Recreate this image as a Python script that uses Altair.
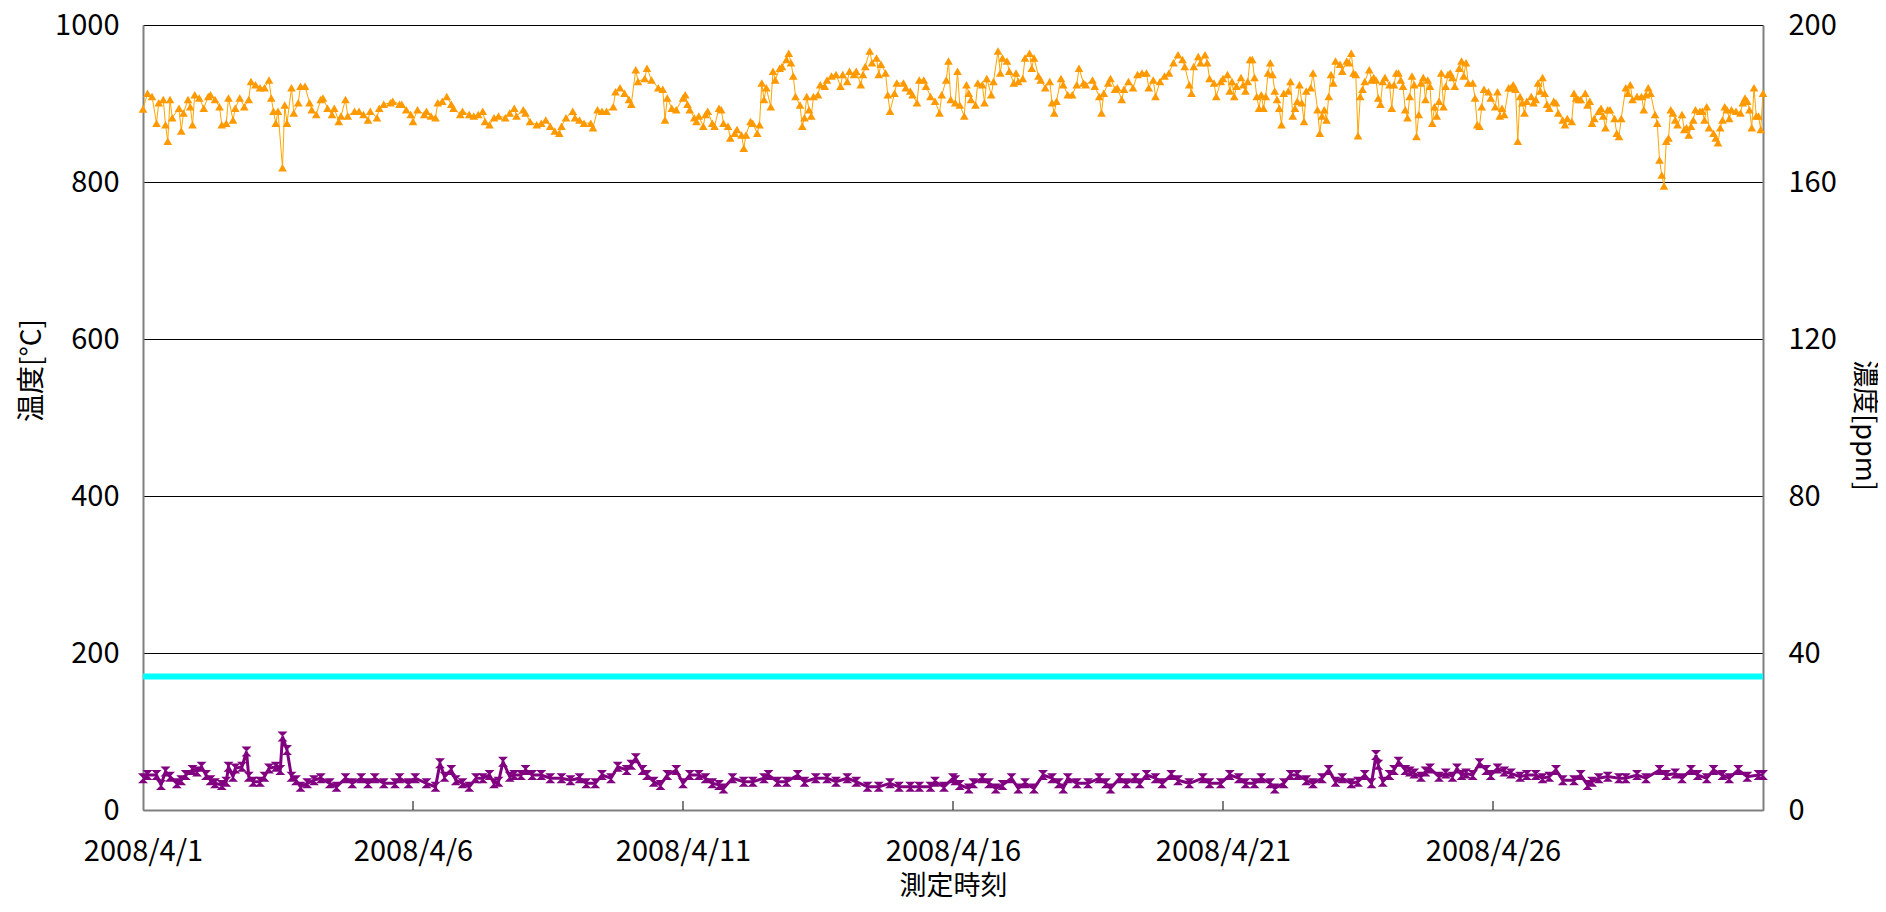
import altair as alt
import pandas as pd

FONT = "Noto Sans CJK JP"
START = "2008-04-01"

# (hours since 2008/4/1 00:00, temperature °C)
temp_readings = [
    (0, 893), (2, 913), (4, 909), (6, 875), (7, 901), (9, 905), (10, 873), (11, 852), (12, 905), (13, 882),
    (16, 894), (17, 865), (18, 888), (20, 905), (21, 896), (22, 873), (23, 911), (25, 907), (27, 894), (29, 909),
    (30, 911), (32, 905), (34, 896), (35, 873), (37, 875), (38, 907), (40, 879), (41, 894), (43, 907), (45, 896),
    (47, 905), (48, 928), (50, 924), (52, 920), (54, 920), (56, 930), (57, 907), (58, 890), (59, 875), (60, 890),
    (62, 818), (63, 898), (64, 875), (66, 920), (67, 888), (69, 901), (70, 922), (72, 922), (74, 901), (75, 892),
    (77, 886), (79, 905), (80, 907), (82, 894), (84, 886), (85, 894), (87, 877), (88, 884), (90, 905), (91, 884),
    (94, 890), (96, 890), (98, 886), (100, 879), (101, 890), (104, 882), (105, 894), (107, 899), (110, 901), (111, 903),
    (114, 899), (115, 899), (117, 892), (119, 886), (120, 877), (122, 892), (125, 886), (126, 890), (128, 884), (130, 882),
    (131, 901), (133, 903), (135, 909), (137, 899), (138, 894), (141, 886), (142, 890), (145, 886), (147, 884), (149, 886),
    (151, 890), (152, 877), (154, 873), (156, 882), (158, 884), (161, 882), (163, 888), (165, 894), (166, 884), (169, 892),
    (170, 888), (172, 877), (175, 873), (177, 875), (179, 879), (181, 871), (183, 865), (185, 862), (186, 871), (188, 882),
    (191, 890), (192, 882), (194, 879), (196, 875), (199, 875), (200, 869), (202, 892), (204, 890), (206, 890), (209, 896),
    (210, 915), (212, 920), (214, 913), (216, 905), (217, 899), (219, 943), (220, 928), (223, 932), (224, 945), (226, 930),
    (229, 920), (231, 918), (232, 879), (233, 907), (235, 894), (237, 892), (240, 907),
    (241, 911), (242, 899), (243, 892), (245, 882), (246, 877), (247, 884), (249, 871), (250, 886), (251, 890), (253, 875),
    (254, 871), (256, 894), (257, 892), (258, 875), (260, 871), (261, 856), (263, 862), (264, 867), (266, 860), (267, 843),
    (268, 860), (270, 877), (271, 875), (273, 862), (274, 873), (275, 926), (276, 905), (277, 920), (279, 896), (280, 941),
    (281, 930), (283, 945), (284, 947), (286, 956), (287, 964), (288, 952), (289, 935), (290, 909), (292, 898), (293, 871),
    (294, 882), (295, 909), (296, 892), (297, 884), (298, 909), (300, 911), (301, 924), (303, 922), (304, 930), (306, 935),
    (308, 937), (310, 922), (311, 937), (313, 928), (314, 941), (316, 937), (317, 941), (319, 924), (320, 937), (321, 947),
    (323, 967), (324, 952), (326, 958), (327, 937), (328, 950), (330, 939), (331, 911), (332, 890), (334, 913), (335, 926),
    (338, 926), (339, 920), (341, 916), (342, 911), (344, 901), (345, 930), (347, 930), (348, 922), (350, 909), (352, 903),
    (354, 888), (355, 911), (357, 930), (358, 954), (359, 905), (361, 901), (362, 941), (363, 898), (365, 884), (366, 924),
    (367, 913), (368, 905), (370, 898), (371, 926), (373, 924), (374, 901), (375, 932), (377, 911), (378, 928), (380, 967),
    (381, 939), (382, 958), (384, 954), (385, 941), (387, 926), (388, 939), (389, 928), (391, 932), (392, 958), (394, 964),
    (395, 945), (396, 958), (398, 935), (399, 930), (401, 920), (403, 928), (404, 901), (405, 888), (406, 903), (408, 932),
    (409, 924), (411, 911), (413, 911), (415, 924), (416, 945), (418, 926), (419, 924), (422, 930), (423, 922), (425, 909),
    (426, 888), (427, 913), (429, 926), (430, 932), (432, 918), (433, 920), (435, 905), (436, 918), (438, 928), (440, 920),
    (442, 937), (444, 939), (446, 939), (447, 920), (449, 930), (450, 909), (452, 928), (454, 935), (456, 939), (458, 952),
    (460, 962), (462, 956), (463, 947), (465, 924), (466, 913), (467, 947), (469, 960), (470, 952), (472, 962), (473, 952),
    (474, 932), (476, 926), (477, 909), (479, 928), (480, 932),
    (482, 937), (483, 916), (484, 928), (485, 909), (486, 922), (488, 933), (489, 924), (490, 916), (491, 928), (492, 956),
    (493, 956), (494, 933), (495, 909), (496, 894), (497, 911), (498, 894), (499, 909), (500, 939), (501, 952), (502, 937),
    (503, 916), (504, 905), (505, 894), (506, 873), (507, 913), (509, 916), (510, 928), (511, 884), (512, 894), (513, 903),
    (514, 924), (515, 901), (516, 877), (517, 916), (519, 920), (520, 939), (522, 892), (523, 862), (524, 884), (525, 892),
    (526, 879), (527, 909), (528, 937), (529, 926), (530, 954), (532, 950), (533, 941), (535, 954), (536, 952), (537, 964),
    (538, 939), (539, 937), (540, 859), (541, 909), (542, 918), (543, 928), (545, 943), (546, 930), (547, 933), (548, 930),
    (549, 907), (550, 899), (551, 928), (552, 933), (554, 924), (555, 894), (556, 924), (557, 939), (558, 939), (559, 930),
    (560, 922), (561, 892), (562, 882), (563, 909), (564, 935), (565, 924), (566, 858), (567, 886), (568, 926), (569, 933),
    (570, 905), (571, 930), (572, 922), (573, 875), (574, 896), (575, 884), (576, 903), (577, 939), (578, 896), (579, 922),
    (580, 937), (581, 939), (582, 933), (583, 922), (585, 945), (586, 954), (587, 935), (588, 952), (589, 926), (591, 926),
    (592, 907), (593, 873), (594, 871), (595, 896), (596, 918), (598, 915), (599, 907), (601, 896), (602, 915), (603, 884),
    (604, 894), (605, 886), (607, 920), (608, 920), (609, 924), (610, 918), (611, 852), (612, 909), (613, 901), (614, 888),
    (615, 903), (617, 909), (618, 901), (619, 905), (620, 926), (621, 916), (622, 933), (623, 913), (624, 899), (625, 894),
    (627, 903), (628, 901), (629, 888), (631, 879), (632, 873), (633, 881), (635, 877), (636, 913), (637, 907), (638, 905),
    (639, 905), (641, 913), (642, 898), (643, 903), (644, 875), (645, 881), (647, 890), (648, 894), (649, 884), (650, 869),
    (651, 892), (652, 892), (654, 881), (655, 862), (656, 858), (657, 881), (659, 920), (660, 913), (661, 924), (662, 905),
    (664, 909), (666, 909), (667, 892), (668, 911), (669, 920), (670, 913), (672, 886), (673, 875), (674, 828), (675, 809),
    (676, 795), (677, 852), (678, 856), (679, 892), (680, 888), (681, 879), (682, 873), (684, 886), (685, 867), (686, 869),
    (687, 860), (688, 871), (689, 879), (690, 892), (692, 890), (693, 890), (694, 879), (695, 896), (696, 869), (698, 862),
    (699, 856), (700, 850), (701, 869), (702, 879), (703, 896), (704, 892), (705, 881), (706, 892), (708, 890), (710, 888),
    (711, 901), (712, 907), (713, 903), (714, 892), (715, 869), (716, 920), (717, 884), (718, 884), (719, 867), (720, 913),
]

# (hours since 2008/4/1 00:00, concentration ppm)
conc_readings = [
    (0, 8.1), (2, 8.9), (6, 8.9), (8, 6.4), (10, 9.8), (12, 8.5), (15, 6.8), (17, 7.6), (19, 8.9), (22, 10.2),
    (24, 9.8), (26, 11.0), (28, 8.9), (30, 7.6), (32, 6.8), (35, 6.4), (37, 7.2), (38, 11.0), (40, 8.5), (41, 10.6),
    (44, 11.0), (46, 14.9), (47, 8.5), (49, 7.2), (52, 7.2), (54, 8.5), (56, 10.6), (59, 11.0), (61, 10.2), (62, 18.7),
    (64, 15.3), (66, 8.5), (68, 7.6), (70, 5.9), (73, 6.8), (76, 7.6), (79, 8.1), (83, 6.8), (86, 5.9), (90, 8.1),
    (93, 6.8), (97, 8.1), (100, 6.8), (103, 8.1), (107, 6.8), (112, 6.8), (114, 8.1), (118, 6.8), (121, 8.1), (126, 6.8),
    (130, 5.9), (132, 11.9), (134, 8.5), (137, 10.2), (139, 7.6), (142, 6.8), (145, 5.9), (148, 8.1), (151, 8.1), (154, 8.9),
    (156, 6.8), (158, 7.2), (160, 12.3), (163, 8.5), (165, 8.9), (168, 8.9), (170, 10.2), (173, 8.9), (177, 8.9), (181, 8.1),
    (186, 8.1), (190, 7.6), (194, 8.1), (197, 6.8), (201, 6.8), (204, 8.9), (208, 8.1), (211, 11.0), (215, 10.2), (217, 11.5),
    (219, 13.2), (222, 10.2), (224, 8.9), (227, 7.2), (230, 6.4), (233, 8.9), (237, 10.2), (240, 6.8), (243, 8.9), (247, 8.9),
    (250, 8.1), (253, 6.8), (256, 6.4), (258, 5.5), (262, 8.1), (267, 7.2), (271, 7.2), (276, 8.1), (278, 8.9), (282, 7.2),
    (286, 7.2), (291, 8.9), (294, 7.2), (299, 8.1), (304, 8.1), (308, 7.2), (313, 8.1), (317, 7.2), (322, 5.9), (327, 5.9),
    (332, 6.8), (336, 5.9), (341, 5.9), (345, 5.9), (350, 5.9), (352, 7.2), (356, 5.9), (360, 8.1),
    (361, 7.6), (363, 6.4), (367, 5.5), (369, 6.8), (373, 8.1), (376, 6.8), (379, 5.5), (382, 6.4), (386, 8.1), (389, 5.5),
    (392, 6.8), (396, 5.5), (400, 8.9), (404, 8.1), (407, 6.8), (409, 5.5), (411, 8.1), (415, 6.8), (420, 6.8), (425, 8.1),
    (428, 6.8), (430, 5.5), (434, 8.1), (437, 6.8), (441, 8.1), (443, 6.8), (446, 8.9), (450, 8.1), (453, 6.8), (457, 8.9),
    (460, 7.6), (465, 6.8), (471, 8.1), (474, 6.8), (479, 6.8), (483, 8.9), (487, 8.1), (490, 6.8), (494, 6.8), (497, 8.1),
    (501, 6.8), (503, 5.5), (507, 6.8), (510, 8.9), (513, 8.9), (517, 7.6), (520, 6.8), (524, 8.1), (527, 10.2), (530, 7.2),
    (533, 8.1), (537, 6.8), (540, 7.2), (543, 8.9), (546, 6.8), (548, 14.0), (549, 11.5), (551, 7.2), (554, 8.9), (556, 10.2),
    (558, 12.3), (561, 10.2), (563, 9.8), (565, 9.3), (568, 8.5), (570, 9.8), (572, 10.6), (576, 8.5), (579, 9.3), (582, 8.5),
    (584, 10.6), (586, 8.9), (588, 9.3), (591, 8.9), (594, 11.9), (597, 10.2), (599, 8.9), (602, 10.6), (605, 9.8), (608, 9.3),
    (612, 8.5), (615, 8.9), (619, 8.9), (622, 8.1), (625, 8.5), (628, 10.2), (631, 7.6), (636, 7.6), (639, 8.9), (642, 6.4),
    (644, 7.2), (647, 8.1), (651, 8.5), (656, 8.1), (659, 8.1), (664, 8.9), (668, 8.1), (674, 10.2), (677, 8.9), (681, 9.3),
    (684, 8.1), (688, 10.2), (691, 8.9), (695, 8.1), (698, 10.2), (702, 8.9), (705, 8.1), (709, 10.2), (713, 8.5), (718, 8.9),
    (720, 8.9),
]

threshold_levels = [170]
tick_days = [1, 6, 11, 16, 21, 26]
left_ticks = [0, 200, 400, 600, 800, 1000]
right_ticks = [0, 40, 80, 120, 160, 200]


def to_frame(readings):
    hours = [h for h, _ in readings]
    vals = [v for _, v in readings]
    t = pd.Timestamp(START) + pd.to_timedelta(hours, unit="h")
    return pd.DataFrame({"t": t.strftime("%Y-%m-%dT%H:%M:%S"), "v": vals})


temp_df = to_frame(temp_readings)
conc_df = to_frame(conc_readings)
thr_df = pd.DataFrame({"v": threshold_levels})
tick_df = pd.DataFrame({"t": [f"2008-04-{d:02d}T00:00:00" for d in tick_days[1:]]})

x_scale = alt.Scale(domain=["2008-04-01T00:00:00", "2008-05-01T00:00:00"])
left_scale = alt.Scale(domain=[0, 1000])
right_scale = alt.Scale(domain=[0, 200])

x_axis = alt.Axis(
    values=[f"2008-04-{d:02d}T00:00:00" for d in tick_days],
    labelExpr="timeFormat(datum.value, '%Y/%-m/%-d')",
    ticks=False, grid=False, labelFlush=False, labelOverlap=False,
    labelPadding=27, labelFont=FONT, labelFontSize=29, labelColor="black",
    domainColor="#808080", domainWidth=2,
    title="測定時刻", titleFont=FONT, titleFontSize=27, titleFontWeight="normal",
    titleColor="black", titleY=76, titleBaseline="middle",
)
left_axis = alt.Axis(
    values=left_ticks, format="d", grid=True, gridColor="black", gridWidth=1,
    ticks=False, labelPadding=24, labelFont=FONT, labelFontSize=29,
    labelColor="black", domainColor="#808080", domainWidth=2,
    title="温度[°C]", titleFont=FONT, titleFontSize=28, titleFontWeight="normal",
    titleColor="black", titleX=-111, titleY=345, titleAngle=270,
    titleAlign="center", titleBaseline="middle",
)
right_axis = alt.Axis(
    orient="right", values=right_ticks, format="d", grid=False,
    ticks=False, labelPadding=25, labelFont=FONT, labelFontSize=29,
    labelColor="black", domainColor="#808080", domainWidth=2,
    title="濃度[ppm]", titleFont=FONT, titleFontSize=27, titleFontWeight="normal",
    titleColor="black", titleX=100, titleY=400, titleAngle=90,
    titleAlign="center", titleBaseline="middle",
)

orange_line = alt.Chart(temp_df).mark_line(color="#FFA500", strokeWidth=1).encode(
    x=alt.X("t:T", scale=x_scale, axis=x_axis),
    y=alt.Y("v:Q", scale=left_scale, axis=left_axis))
orange_pts = alt.Chart(temp_df).mark_point(
    shape="triangle-up", filled=True, size=75, color="#FF9900", opacity=1).encode(
    x=alt.X("t:T", scale=x_scale),
    y=alt.Y("v:Q", scale=left_scale))
cyan = alt.Chart(thr_df).mark_rule(color="#00FFFF", strokeWidth=6).encode(
    y=alt.Y("v:Q", scale=left_scale))
xticks = alt.Chart(tick_df).mark_rule(color="black", strokeWidth=1).encode(
    x=alt.X("t:T", scale=x_scale), y=alt.value(776), y2=alt.value(785))

left_group = alt.layer(orange_line, orange_pts, cyan, xticks)

HOURGLASS = "M-1,-1L1,-1L-1,1L1,1Z"
purple_line = alt.Chart(conc_df).mark_line(color="#800080", strokeWidth=3).encode(
    x=alt.X("t:T", scale=x_scale),
    y=alt.Y("v:Q", scale=right_scale, axis=right_axis))
purple_pts = alt.Chart(conc_df).mark_point(
    shape=HOURGLASS, filled=True, size=100, color="#800080", opacity=1).encode(
    x=alt.X("t:T", scale=x_scale),
    y=alt.Y("v:Q", scale=right_scale))

right_group = alt.layer(purple_line, purple_pts)

chart = alt.layer(left_group, right_group).resolve_scale(y="independent").properties(
    width=1620, height=785,
    autosize=alt.AutoSizeParams(type="none"),
    padding={"left": 135, "top": 17, "right": 115, "bottom": 87},
    background="white",
).configure(font=FONT).configure_view(stroke="transparent")

chart.save("out.html", embed_options={"renderer": "svg", "actions": False})
